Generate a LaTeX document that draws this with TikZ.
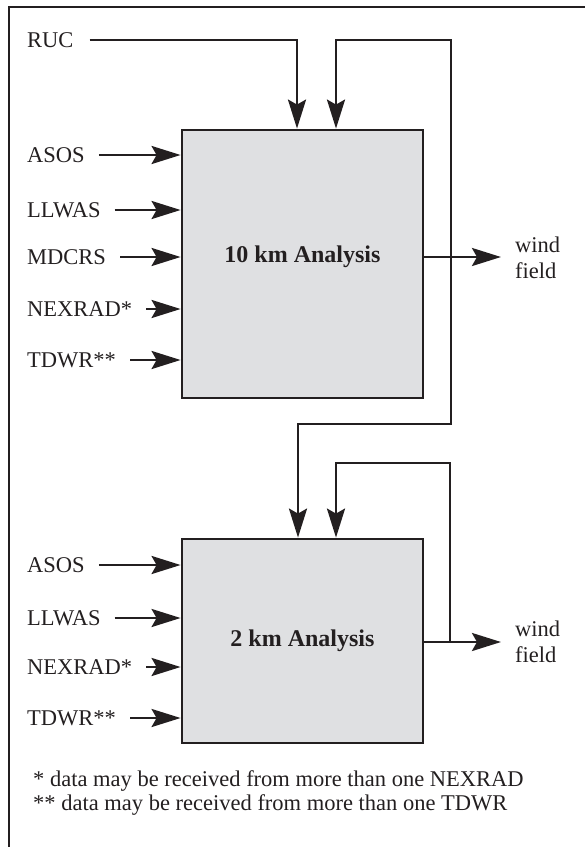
\documentclass[tikz,border=0pt]{standalone}
\usepackage{fontspec}
\setmainfont{Liberation Serif}
\usetikzlibrary{arrows.meta,positioning,calc}
\definecolor{boxgray}{RGB}{223,224,226}
\definecolor{inkcolor}{RGB}{35,31,32}

\begin{document}
\begin{tikzpicture}[
    x=1pt, y=-1pt,
    ink/.style={draw=inkcolor, line width=2.8pt},
    analysis/.style={rectangle, draw=inkcolor, line width=2.8pt, fill=boxgray, minimum width=241pt, inner sep=0pt},
    title/.style={font=\fontsize{24}{28}\selectfont\bfseries, text=inkcolor},
    src/.style={anchor=west, inner sep=0pt, font=\fontsize{22.5}{26.5}\selectfont, text=inkcolor},
    arrow/.style={ink, -{Stealth[length=29pt, width=18pt, inset=5pt]}},
    feed/.style={arrow, shorten <=14pt}
]
\useasboundingbox (0,0) rectangle (585,847);

% Frame
\draw[ink] (9,847) -- (9,7) -- (585,7);

% Analysis boxes
\node[analysis, minimum height=268pt] (box1) at (302.5,264) {};
\node[title] (t1) at (302.5,257) {10 km Analysis};
\node[analysis, minimum height=204pt] (box2) at (302.5,641) {};
\node[title] (t2) at (box2.center) {2 km Analysis};

% Inputs, 10 km
\node[src] (ruc) at (27,40) {RUC};
\node[src] (asos1) at (27,155) {ASOS};
\node[src] (llwas1) at (27,210) {LLWAS};
\node[src] (mdcrs1) at (27,257) {MDCRS};
\node[src] (nexrad1) at (27,309) {NEXRAD*};
\node[src] (tdwr1) at (27,360) {TDWR**};

% Inputs, 2 km
\node[src] (asos2) at (27,565) {ASOS};
\node[src] (llwas2) at (27,618) {LLWAS};
\node[src] (nexrad2) at (27,667) {NEXRAD*};
\node[src] (tdwr2) at (27,718) {TDWR**};

% Outputs
\node[src, align=left] (wind1) at (515,258) {wind\\field};
\node[src, align=left] (wind2) at (515,642) {wind\\field};

% Notes
\node[src, align=left, font=\fontsize{22.5}{24}\selectfont] (notes) at (33,793)
    {* data may be received from more than one NEXRAD\\** data may be received from more than one TDWR};

% Helper points
\coordinate (top1a) at ([xshift=-5.5pt]box1.north);
\coordinate (top1b) at ([xshift=33.5pt]box1.north);
\coordinate (top2a) at ([xshift=-4.5pt]box2.north);
\coordinate (top2b) at ([xshift=33.5pt]box2.north);
\coordinate (j1) at (451,257);
\coordinate (j2) at (450,642);
\coordinate (bend1) at (451,424);
\coordinate (bend2) at (450,463);

% Input arrows
\draw[feed] (asos1) -- (asos1 -| box1.west);
\draw[feed] (llwas1) -- (llwas1 -| box1.west);
\draw[feed] (mdcrs1) -- (mdcrs1 -| box1.west);
\draw[feed] (nexrad1) -- (nexrad1 -| box1.west);
\draw[feed] (tdwr1) -- (tdwr1 -| box1.west);
\draw[feed] (asos2) -- (asos2 -| box2.west);
\draw[feed] (llwas2) -- (llwas2 -| box2.west);
\draw[feed] (nexrad2) -- (nexrad2 -| box2.west);
\draw[feed] (tdwr2) -- (tdwr2 -| box2.west);
\draw[arrow, shorten <=16pt] (ruc) -| (top1a);

% Outputs and feedback
\draw[arrow, shorten >=14pt] (box1.east |- t1) -- (wind1.west |- t1);
\draw[arrow] (j1) |- (top1b |- ruc) -- (top1b);
\draw[arrow] (j1) -- (bend1) -| (top2a);
\draw[arrow, shorten >=14pt] (box2.east |- j2) -- (wind2.west |- j2);
\draw[arrow] (j2) -- (bend2) -| (top2b);

\end{tikzpicture}
\end{document}
